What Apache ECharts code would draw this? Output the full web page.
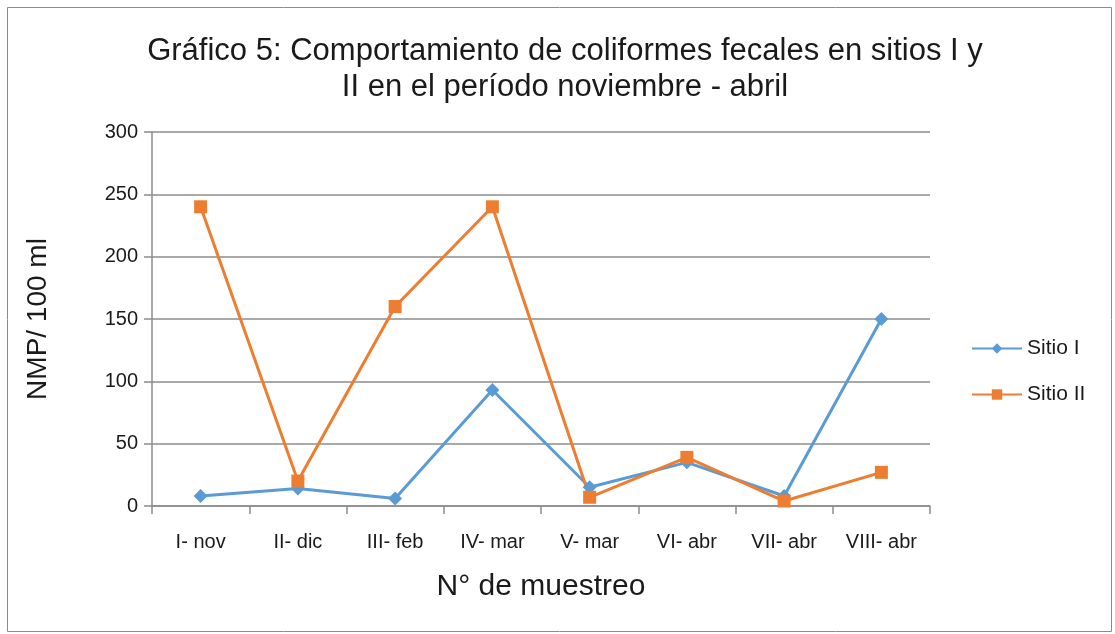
<!DOCTYPE html>
<html>
<head>
<meta charset="utf-8">
<script src="https://cdn.jsdelivr.net/npm/echarts@6/dist/echarts.min.js"></script>
<style>html,body{margin:0;padding:0;background:#fff;}#c{width:1115px;height:634px;}</style>
</head>
<body>
<div id="c"></div>
<script>
const categories = ['I- nov', 'II- dic', 'III- feb', 'IV- mar', 'V- mar', 'VI- abr', 'VII- abr', 'VIII- abr'];
const sitioI = [8, 14, 6, 93, 15, 35, 8, 150];
const sitioII = [240, 20, 160, 240, 7, 39, 4, 27];
const yTicks = [0, 50, 100, 150, 200, 250, 300];

const chart = echarts.init(document.getElementById('c'));
const font = 'Liberation Sans, Arial, sans-serif';
chart.setOption({
  backgroundColor: '#fff',
  animation: false,
  graphic: [{
    type: 'rect', left: 5, top: 5,
    shape: { width: 1104, height: 624 },
    style: { fill: 'none', stroke: '#8c8c8c', lineWidth: 1 }
  }],
  title: {
    text: 'Gráfico 5: Comportamiento de coliformes fecales en sitios I y\nII en el período noviembre - abril',
    left: 560, top: 28, textAlign: 'center',
    textStyle: { fontFamily: font, fontSize: 31, fontWeight: 'normal', color: '#1a1a1a', lineHeight: 36 }
  },
  legend: {
    orient: 'vertical', left: 966, top: 333, itemGap: 25,
    itemWidth: 50, itemHeight: 13,
    textStyle: { fontFamily: font, fontSize: 21, color: '#1a1a1a' },
    data: ['Sitio I', 'Sitio II']
  },
  grid: { left: 152, right: 185, top: 132, bottom: 128 },
  xAxis: {
    type: 'category', data: categories, boundaryGap: true,
    name: 'N° de muestreo', nameLocation: 'middle', nameGap: 66,
    nameTextStyle: { fontFamily: font, fontSize: 30, color: '#1a1a1a' },
    axisLine: { lineStyle: { color: '#8c8c8c', width: 1.5 } },
    axisTick: { show: true, length: 8, alignWithLabel: false, lineStyle: { color: '#8c8c8c', width: 1.5 } },
    axisLabel: { fontFamily: font, fontSize: 20, color: '#1a1a1a', margin: 26, interval: 0 }
  },
  yAxis: {
    type: 'value', min: 0, max: 300, interval: 50,
    name: 'NMP/ 100 ml', nameLocation: 'middle', nameGap: 100, nameRotate: 90,
    nameTextStyle: { fontFamily: font, fontSize: 28, color: '#1a1a1a' },
    axisLine: { show: true, lineStyle: { color: '#8c8c8c', width: 1.5 } },
    axisTick: { show: true, length: 8, lineStyle: { color: '#8c8c8c', width: 1.5 } },
    axisLabel: { fontFamily: font, fontSize: 20, color: '#1a1a1a', margin: 14,
      formatter: v => yTicks.includes(v) ? String(v) : '' },
    splitLine: { lineStyle: { color: '#8c8c8c', width: 1.5 } }
  },
  series: [{
    name: 'Sitio I', type: 'line', data: sitioI,
    symbol: 'diamond', symbolSize: 14,
    lineStyle: { color: '#5B9BD5', width: 3 },
    itemStyle: { color: '#5B9BD5' }
  }, {
    name: 'Sitio II', type: 'line', data: sitioII,
    symbol: 'rect', symbolSize: 13,
    lineStyle: { color: '#ED7D31', width: 3 },
    itemStyle: { color: '#ED7D31' }
  }]
});
</script>
</body>
</html>
